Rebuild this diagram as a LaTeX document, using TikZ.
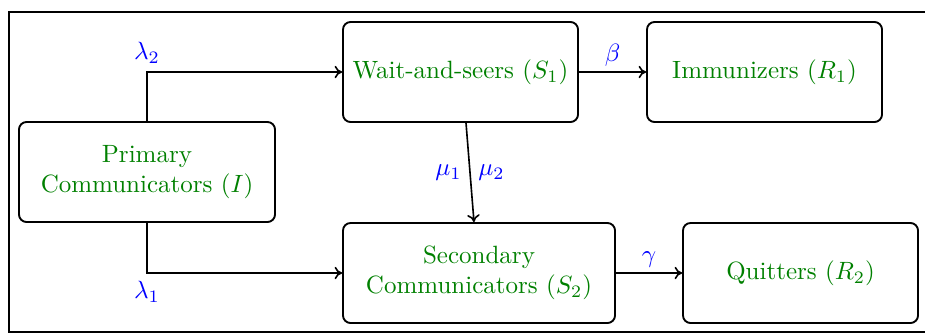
\documentclass[tikz,border=0pt]{standalone}
\usetikzlibrary{arrows.meta,calc}
\definecolor{boxgreen}{RGB}{0,128,0}
\begin{document}
\begin{tikzpicture}[x=0.4pt,y=-0.4pt,
  box/.style={draw,line width=0.75pt,rounded corners=3pt,align=center,
    text=boxgreen,minimum height=40pt,inner sep=2pt},
  flow/.style={line width=0.65pt,-{To[length=3pt,width=5pt]}},
  lab/.style={text=blue,inner sep=2pt}]
\useasboundingbox (0,0) rectangle (925,334);
\draw[line width=0.75pt] (9,12) rectangle (930,332);
\node[box,minimum width=102.4pt] (I) at (147,172) {Primary\\Communicators ($I$)};
\node[box,minimum width=94pt] (S1) at (460.5,72) {Wait-and-seers ($S_1$)};
\node[box,minimum width=94pt] (R1) at (764.5,72) {Immunizers ($R_1$)};
\node[box,minimum width=108.8pt] (S2) at (479,273) {Secondary\\Communicators ($S_2$)};
\node[box,minimum width=94pt] (R2) at (800.5,273) {Quitters ($R_2$)};
\coordinate (c2) at (I.north |- S1.west);
\coordinate (c1) at (I.south |- S2.west);
\draw[flow] (I.north) -- (c2) -- (S1.west);
\draw[flow] (I.south) -- (c1) -- (S2.west);
\node[lab,above] at ($(c2)+(0,-3)$) {$\lambda_2$};
\node[lab,below] at ($(c1)+(0,3)$) {$\lambda_1$};
\draw[flow] (S1.east) -- node[lab,above] {$\beta$} (R1.west);
\draw[flow] (S2.east) -- node[lab,above] {$\gamma$} (R2.west);
\draw[flow] ([xshift=2.2pt]S1.south) -- node[lab,left,inner sep=3pt] {$\mu_1$} node[lab,right,inner sep=3pt] {$\mu_2$} ([xshift=-2pt]S2.north);
\end{tikzpicture}
\end{document}
